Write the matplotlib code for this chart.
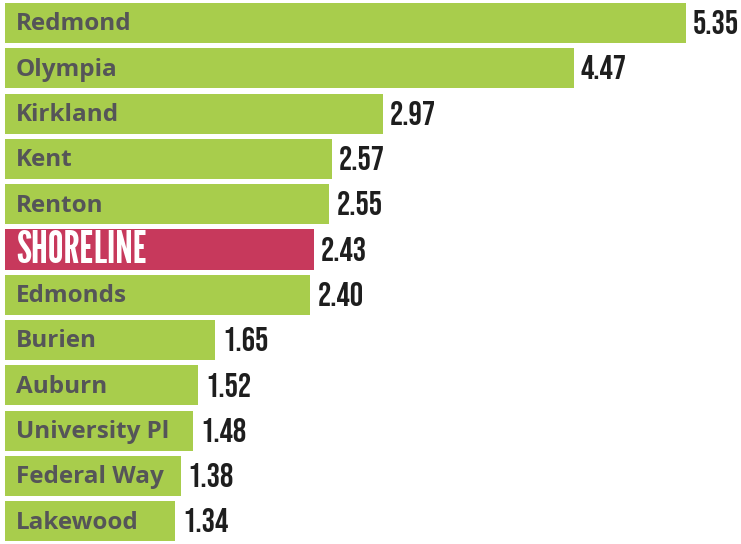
import matplotlib
matplotlib.use("Agg")
import matplotlib.pyplot as plt

cities = ["Redmond", "Olympia", "Kirkland", "Kent", "Renton", "SHORELINE", "Edmonds",
          "Burien", "Auburn", "University Pl", "Federal Way", "Lakewood"]
values = [5.35, 4.47, 2.97, 2.57, 2.55, 2.43, 2.40, 1.65, 1.52, 1.48, 1.38, 1.34]
highlight = "SHORELINE"

GREEN = "#a8cd4c"
PINK = "#c7395c"
GRAY = "#555558"

fig = plt.figure(figsize=(7.41, 5.44), dpi=100)
ax = fig.add_axes([0, 0, 1, 1])
ypos = list(range(len(cities)))
colors = [PINK if c == highlight else GREEN for c in cities]
ax.barh(ypos, values, height=0.885, color=colors, left=0)
ax.set_xlim(-0.039, 5.786)
ax.set_ylim(11.5, -0.508)
ax.axis("off")

for y, c, v in zip(ypos, cities, values):
    if c == highlight:
        ax.text(0.085, y + 0.03, c, color="white", fontsize=32, family="League Gothic",
                va="center", ha="left")
    else:
        ax.text(0.085, y + 0.03, c, color=GRAY, fontsize=17.5, family="Open Sans",
                fontweight="bold", va="center", ha="left")
    ax.text(v + 0.055, y - 0.02, f"{v:.2f}", color="#1e1e1e", fontsize=24,
            family=["Bebas Neue", "Saira ExtraCondensed"], fontweight="bold",
            va="center", ha="left")

fig.savefig("out.png", dpi=100)
